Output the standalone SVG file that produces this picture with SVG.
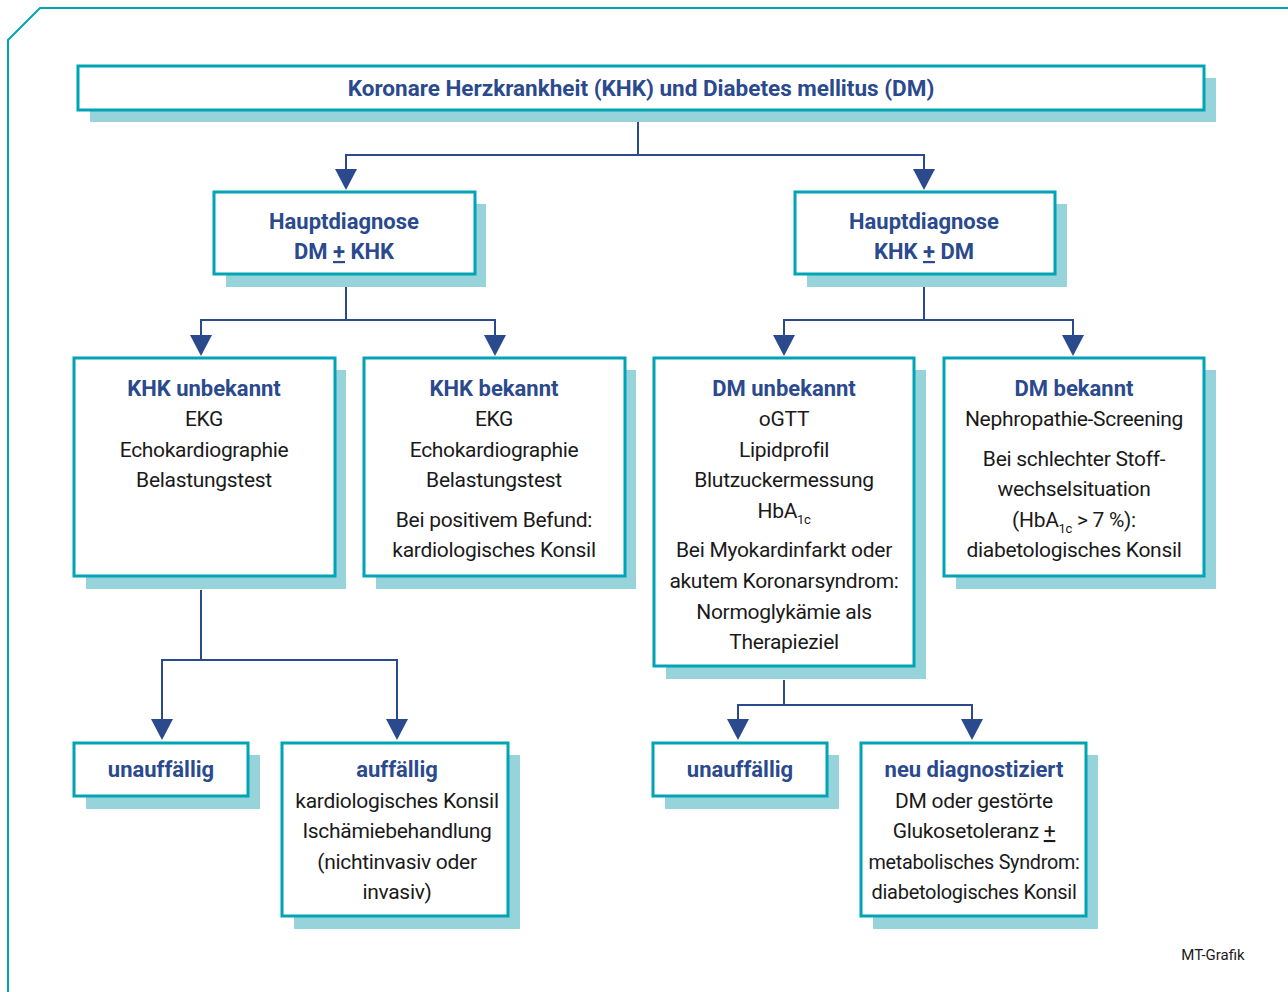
<svg xmlns="http://www.w3.org/2000/svg" width="1288" height="992" viewBox="0 0 1288 992">
<style>
.box{fill:#fff;stroke:#00a4b4;stroke-width:3}
.sh{fill:#96d3da}
.c{fill:none;stroke:#2b4a8e;stroke-width:2}
text{font-family:Roboto,"Liberation Sans",sans-serif;font-size:21px;letter-spacing:-0.3px;text-anchor:middle;fill:#1a1a1a}
.h{font-weight:bold;fill:#2b4a8e;font-size:22px;letter-spacing:0}
.sub{font-size:13px}
</style>
<rect width="1288" height="992" fill="#fff"/>
<path d="M8,992 L8,40 L40,8 L1288,8" fill="none" stroke="#00a4b4" stroke-width="2"/>
<g id="connectors">
<path class="c" d="M638,110 V155 H346 V172 M638,155 H924 V172"/>
<path class="c" d="M346,276 V320 H201 V338 M346,320 H495 V338"/>
<path class="c" d="M924,276 V320 H784 V338 M924,320 H1073 V338"/>
<path class="c" d="M201,590 V660 H162 V722 M201,660 H397 V722"/>
<path class="c" d="M784,680 V705 H738 V722 M784,705 H972 V722"/>
<g fill="#2b4a8e">
<path d="M335,169 H357 L346,190 Z"/><path d="M913,169 H935 L924,190 Z"/>
<path d="M190,335 H212 L201,356 Z"/><path d="M484,335 H506 L495,356 Z"/>
<path d="M773,335 H795 L784,356 Z"/><path d="M1062,335 H1084 L1073,356 Z"/>
<path d="M151,719 H173 L162,740 Z"/><path d="M386,719 H408 L397,740 Z"/>
<path d="M727,719 H749 L738,740 Z"/><path d="M961,719 H983 L972,740 Z"/>
</g>
</g>
<g id="title">
<rect class="sh" x="90" y="78" width="1126" height="44"/>
<rect class="box" x="78" y="66" width="1126" height="44"/>
<text class="h" x="641" y="96" style="font-size:22.5px">Koronare Herzkrankheit (KHK) und Diabetes mellitus (DM)</text>
</g>
<g id="haupt-left">
<rect class="sh" x="226" y="204" width="260" height="83"/>
<rect class="box" x="214" y="192" width="261" height="82"/>
<text class="h" x="344" y="229">Hauptdiagnose</text>
<text class="h" x="344" y="259">DM <tspan text-decoration="underline">+</tspan> KHK</text>
</g>
<g id="haupt-right">
<rect class="sh" x="807" y="204" width="260" height="83"/>
<rect class="box" x="795" y="192" width="260" height="82"/>
<text class="h" x="924" y="229">Hauptdiagnose</text>
<text class="h" x="924" y="259">KHK <tspan text-decoration="underline">+</tspan> DM</text>
</g>
<g id="khk-unbekannt">
<rect class="sh" x="86" y="370" width="260" height="219"/>
<rect class="box" x="74" y="358" width="261" height="218"/>
<text class="h" x="204" y="396">KHK unbekannt</text>
<text x="204" y="426">EKG</text>
<text x="204" y="457">Echokardiographie</text>
<text x="204" y="487">Belastungstest</text>
</g>
<g id="khk-bekannt">
<rect class="sh" x="376" y="370" width="260" height="219"/>
<rect class="box" x="364" y="358" width="261" height="218"/>
<text class="h" x="494" y="396">KHK bekannt</text>
<text x="494" y="426">EKG</text>
<text x="494" y="457">Echokardiographie</text>
<text x="494" y="487">Belastungstest</text>
<text x="494" y="527">Bei positivem Befund:</text>
<text x="494" y="557">kardiologisches Konsil</text>
</g>
<g id="dm-unbekannt">
<rect class="sh" x="666" y="370" width="260" height="309"/>
<rect class="box" x="654" y="358" width="260" height="308"/>
<text class="h" x="784" y="396">DM unbekannt</text>
<text x="784" y="426">oGTT</text>
<text x="784" y="457">Lipidprofil</text>
<text x="784" y="487">Blutzuckermessung</text>
<text x="784" y="518">HbA<tspan class="sub" dy="6">1c</tspan></text>
<text x="784" y="557">Bei Myokardinfarkt oder</text>
<text x="784" y="588">akutem Koronarsyndrom:</text>
<text x="784" y="619">Normoglykämie als</text>
<text x="784" y="649">Therapieziel</text>
</g>
<g id="dm-bekannt">
<rect class="sh" x="956" y="370" width="260" height="219"/>
<rect class="box" x="944" y="358" width="260" height="218"/>
<text class="h" x="1074" y="396">DM bekannt</text>
<text x="1074" y="426">Nephropathie-Screening</text>
<text x="1074" y="466">Bei schlechter Stoff-</text>
<text x="1074" y="496">wechselsituation</text>
<text x="1074" y="527">(HbA<tspan class="sub" dy="6">1c</tspan><tspan dy="-6"> &gt; 7 %):</tspan></text>
<text x="1074" y="557">diabetologisches Konsil</text>
</g>
<g id="unauffaellig-left">
<rect class="sh" x="86" y="755" width="174" height="54"/>
<rect class="box" x="74" y="743" width="174" height="53"/>
<text class="h" x="161" y="777">unauffällig</text>
</g>
<g id="auffaellig">
<rect class="sh" x="294" y="755" width="226" height="174"/>
<rect class="box" x="282" y="743" width="226" height="173"/>
<text class="h" x="397" y="777">auffällig</text>
<text x="397" y="808">kardiologisches Konsil</text>
<text x="397" y="838">Ischämiebehandlung</text>
<text x="397" y="869">(nichtinvasiv oder</text>
<text x="397" y="899">invasiv)</text>
</g>
<g id="unauffaellig-right">
<rect class="sh" x="665" y="755" width="174" height="54"/>
<rect class="box" x="653" y="743" width="174" height="53"/>
<text class="h" x="740" y="777">unauffällig</text>
</g>
<g id="neu-diagnostiziert">
<rect class="sh" x="873" y="755" width="225" height="174"/>
<rect class="box" x="861" y="743" width="225" height="173"/>
<text class="h" x="974" y="777">neu diagnostiziert</text>
<text x="974" y="808">DM oder gestörte</text>
<text x="974" y="838">Glukosetoleranz <tspan text-decoration="underline">+</tspan></text>
<text x="974" y="869" textLength="211" lengthAdjust="spacingAndGlyphs">metabolisches Syndrom:</text>
<text x="974" y="899" textLength="205" lengthAdjust="spacingAndGlyphs">diabetologisches Konsil</text>
</g>
<text x="1213" y="960" style="font-size:15px;letter-spacing:0">MT-Grafik</text>
</svg>
